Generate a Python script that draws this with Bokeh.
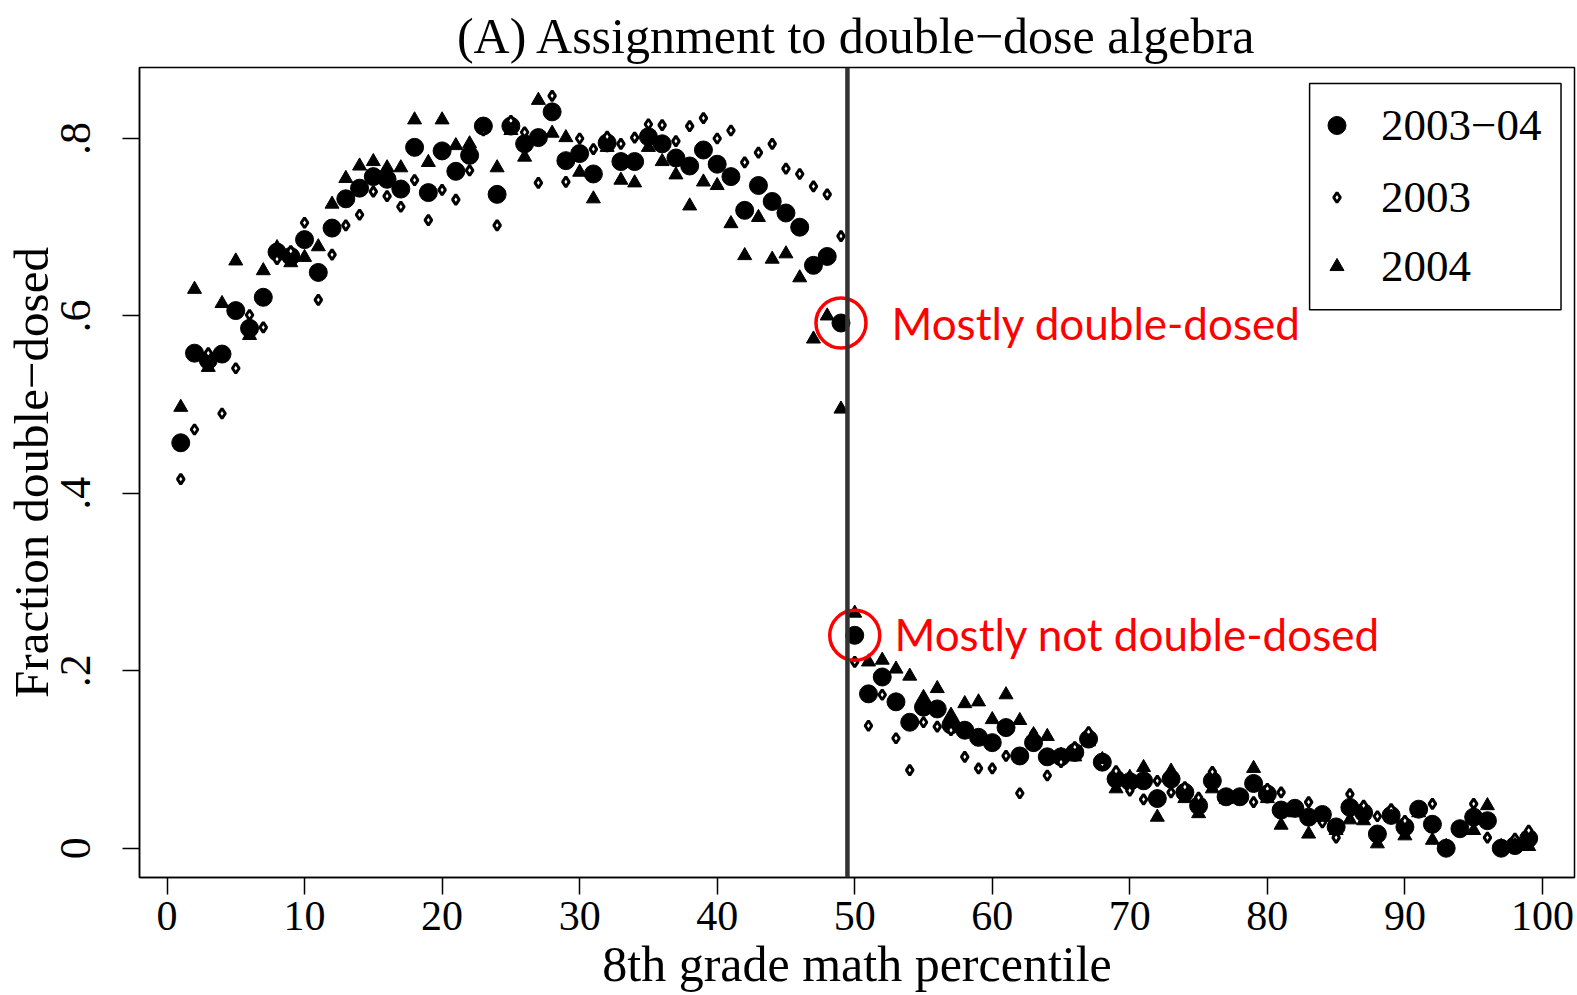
from bokeh.plotting import figure
from bokeh.models import (FixedTicker, Legend, LegendItem, Span, Range1d, Label,
                          BoxAnnotation)
from bokeh.embed import file_html
from bokeh.resources import INLINE

pct = list(range(1, 100))

frac_0304 = [
    .457, .558, .550, .557, .606, .586, .621, .672, .667, .686,
    .649, .699, .732, .744, .757, .754, .743, .790, .739, .786,
    .763, .781, .814, .737, .814, .794, .801, .830, .775, .783,
    .760, .795, .774, .774, .802, .794, .778, .769, .787, .771,
    .757, .719, .747, .729, .716, .700, .657, .667, .592, .240,
    .174, .193, .165, .142, .159, .157, .139, .133, .125, .119,
    .136, .104, .119, .103, .103, .108, .123, .097, .078, .075,
    .076, .056, .078, .063, .048, .076, .058, .058, .073, .061,
    .043, .045, .035, .038, .024, .046, .040, .016, .037, .024,
    .044, .027, .000, .022, .035, .031, .000, .003, .011]

frac_2003 = [
    .416, .472, .558, .490, .541, .601, .587, .664, .673, .705,
    .618, .669, .702, .714, .740, .735, .723, .753, .708, .742,
    .731, .764, .809, .702, .820, .807, .750, .848, .751, .800,
    .788, .802, .794, .801, .816, .815, .797, .814, .823, .800,
    .809, .773, .784, .794, .766, .760, .746, .737, .690, .210,
    .138, .173, .124, .088, .142, .137, .133, .103, .090, .090,
    .104, .062, .129, .082, .097, .114, .131, .095, .087, .065,
    .055, .076, .063, .069, .057, .086, .060, .060, .052, .067,
    .063, .043, .052, .029, .012, .061, .048, .036, .044, .031,
    .042, .050, .003, .025, .050, .012, .002, .011, .020]

frac_2004 = [
    .497, .630, .542, .614, .662, .578, .651, .677, .660, .666,
    .678, .726, .755, .769, .774, .767, .767, .821, .773, .821,
    .792, .794, .812, .767, .809, .779, .843, .806, .801, .762,
    .732, .790, .753, .750, .790, .774, .759, .724, .751, .747,
    .704, .668, .711, .664, .670, .643, .574, .600, .495, .265,
    .210, .212, .202, .194, .170, .180, .150, .163, .165, .145,
    .173, .144, .128, .126, .105, .103, .120, .100, .067, .080,
    .091, .035, .087, .056, .039, .067, .055, .058, .090, .056,
    .026, .040, .016, .035, .020, .032, .031, .005, .035, .014,
    .040, .009, .002, .022, .020, .048, .002, .003, .002]

series_labels = ["2003\u221204", "2003", "2004"]
x_ticks = [0, 10, 20, 30, 40, 50, 60, 70, 80, 90, 100]
y_ticks = [0, 0.2, 0.4, 0.6, 0.8]
y_tick_labels = ["0", ".2", ".4", ".6", ".8"]
cutoff = 49.47

SERIF = "Liberation Serif"

p = figure(width=1577, height=995,
           x_range=Range1d(-2, 102.33), y_range=Range1d(-0.033, 0.88),
           output_backend="svg", toolbar_location=None,
           min_border_left=137, min_border_right=3,
           min_border_top=67, min_border_bottom=118,
           background_fill_color="white", border_fill_color="white")

p.title.text = "(A) Assignment to double\u2212dose algebra"
p.title.text_font = SERIF
p.title.text_font_size = "50px"
p.title.text_font_style = "normal"
p.title.align = "center"
p.title.vertical_align = "top"
p.title.text_color = "black"
p.title.standoff = 4

p.grid.visible = False
p.outline_line_color = "black"
p.outline_line_width = 1.5

p.xaxis.ticker = FixedTicker(ticks=x_ticks)
p.yaxis.ticker = FixedTicker(ticks=y_ticks)
p.yaxis.major_label_overrides = {t: l for t, l in zip(y_ticks, y_tick_labels)}
for ax in (p.xaxis, p.yaxis):
    ax.axis_line_color = "black"
    ax.axis_line_width = 1.5
    ax.major_tick_line_color = "black"
    ax.major_tick_line_width = 1.5
    ax.major_tick_in = 0
    ax.major_tick_out = 17
    ax.minor_tick_line_color = None
    ax.major_label_text_font = SERIF
    ax.major_label_text_color = "black"
    ax.axis_label_text_font = SERIF
    ax.axis_label_text_font_style = "normal"
    ax.axis_label_text_color = "black"

p.xaxis.major_label_text_font_size = "42px"
p.xaxis.major_label_standoff = 7
p.xaxis.axis_label = "8th grade math percentile"
p.xaxis.axis_label_text_font_size = "50px"
p.xaxis.axis_label_standoff = 3

p.yaxis.major_label_text_font_size = "44px"
p.yaxis.major_label_orientation = "vertical"
p.yaxis.major_label_standoff = 32
p.yaxis.axis_label = "Fraction double\u2212dosed"
p.yaxis.axis_label_text_font_size = "49px"
p.yaxis.axis_label_standoff = 0

r1 = p.scatter(pct, frac_0304, marker="circle", size=18,
               fill_color="black", line_color="black")
r2 = p.scatter(pct, frac_2003, marker="diamond", size=10,
               fill_color="white", line_color="black", line_width=3)
r3 = p.scatter(pct, frac_2004, marker="triangle", size=14,
               fill_color="black", line_color="black")

p.add_layout(Span(location=cutoff, dimension="height",
                  line_color="#333333", line_width=4.5))

# red highlight circles on the two points next to the cutoff
p.scatter([pct[48], pct[49]], [frac_0304[48], frac_0304[49]], marker="circle",
          size=50, fill_color=None, line_color="#ff0000", line_width=3.5)

p.add_layout(Label(x=52.67, y=0.5915, text="Mostly double-dosed",
                   text_color="#ff0000", text_font="Lato",
                   text_font_size="44px", text_baseline="middle"))
p.add_layout(Label(x=52.89, y=0.241, text="Mostly not double-dosed",
                   text_color="#ff0000", text_font="Lato",
                   text_font_size="44px", text_baseline="middle"))

# legend frame
p.add_layout(BoxAnnotation(left=83.07, right=101.35, top=0.8621, bottom=0.6070,
                           fill_color="white", fill_alpha=1,
                           line_color="black", line_width=1.5, line_alpha=1))

# one legend per entry so each marker keeps its own size
glyph_cx = 1197      # glyph centre, px from frame left
text_x = 1242        # label start, px from frame left
row_y = [751, 679, 610]   # row centres, px above frame bottom
glyph_w = [45, 25, 35]
ROW_H = 50
for rend, lab, gw, ry in zip([r1, r2, r3], series_labels, glyph_w, row_y):
    loc_x = glyph_cx - gw // 2
    lg = Legend(items=[LegendItem(label=lab, renderers=[rend])],
                location=(loc_x, ry - ROW_H // 2),
                margin=0, padding=0, spacing=0,
                glyph_width=gw, glyph_height=ROW_H, label_height=ROW_H,
                label_standoff=text_x - loc_x - gw,
                label_text_font=SERIF, label_text_font_size="45px",
                label_text_color="black",
                border_line_color=None, background_fill_alpha=0)
    p.add_layout(lg)

open("out.html", "w").write(file_html(p, INLINE))
